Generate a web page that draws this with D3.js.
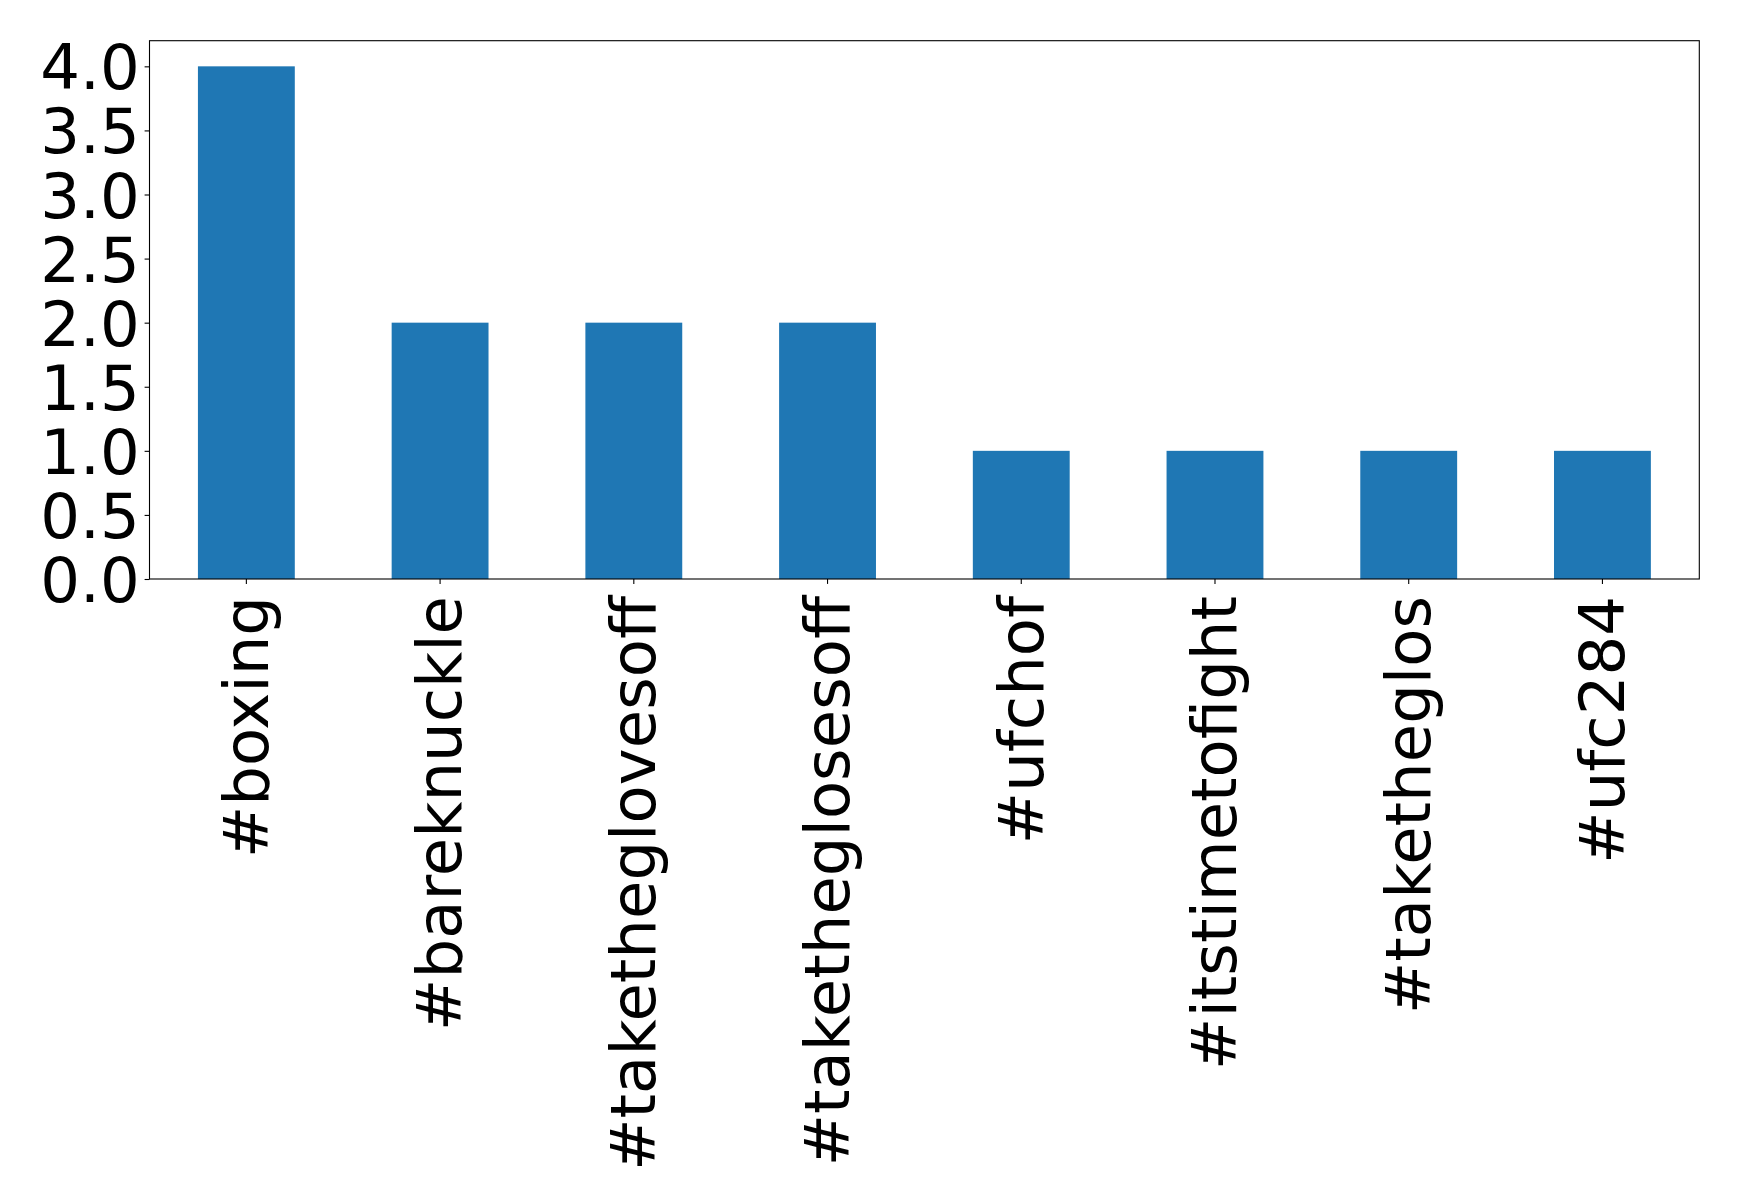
<!DOCTYPE html>
<html><head><meta charset="utf-8">
<script src="https://cdn.jsdelivr.net/npm/d3@7"></script>
<style>body{margin:0;background:#fff}svg{display:block}</style>
</head><body>
<script>
const categories = ["#boxing","#bareknuckle","#taketheglovesoff","#taketheglosesoff","#ufchof","#itstimetofight","#taketheglos","#ufc284"];
const values = [4,2,2,2,1,1,1,1];
const yTicks = [0,0.5,1,1.5,2,2.5,3,3.5,4];

const W=1739,H=1204;
const m={left:149.5,right:1699.3,top:40.7,bottom:579};
const svg=d3.select("body").append("svg").attr("width",W).attr("height",H);
const x=d3.scaleBand().domain(categories).range([m.left,m.right]).paddingInner(0.5).paddingOuter(0.25);
const y=d3.scaleLinear().domain([0,4.2]).range([m.bottom,m.top]);
const font="DejaVu Sans";
const fs=62.5;

svg.append("g").selectAll("rect").data(values).join("rect")
  .attr("x",(d,i)=>x(categories[i])).attr("width",x.bandwidth())
  .attr("y",d=>y(d)).attr("height",d=>y(0)-y(d)).attr("fill","#1f77b4");

const ya=svg.append("g").attr("transform",`translate(${m.left},0)`)
  .call(d3.axisLeft(y).tickValues(yTicks).tickFormat(d3.format(".1f")).tickSize(4.9).tickPadding(4.9));
ya.select(".domain").remove();
ya.selectAll("line").attr("stroke","#000").attr("stroke-width",1.1);
ya.selectAll("text").attr("font-family",font).attr("font-size",fs).attr("fill","#000").attr("dy","0.36em");

const xa=svg.append("g").attr("transform",`translate(0,${m.bottom})`)
  .call(d3.axisBottom(x).tickSize(4.9).tickPadding(0));
xa.select(".domain").remove();
xa.selectAll("line").attr("stroke","#000").attr("stroke-width",1.1);
xa.selectAll("text").attr("font-family",font).attr("font-size",fs).attr("fill","#000")
  .attr("text-anchor","end").attr("transform","translate(0,17) rotate(-90)")
  .attr("x",0).attr("y",0).attr("dy","0.34em");

svg.append("rect").attr("x",m.left).attr("y",m.top).attr("width",m.right-m.left).attr("height",m.bottom-m.top)
  .attr("fill","none").attr("stroke","#000").attr("stroke-width",1.1);
</script>
</body></html>
